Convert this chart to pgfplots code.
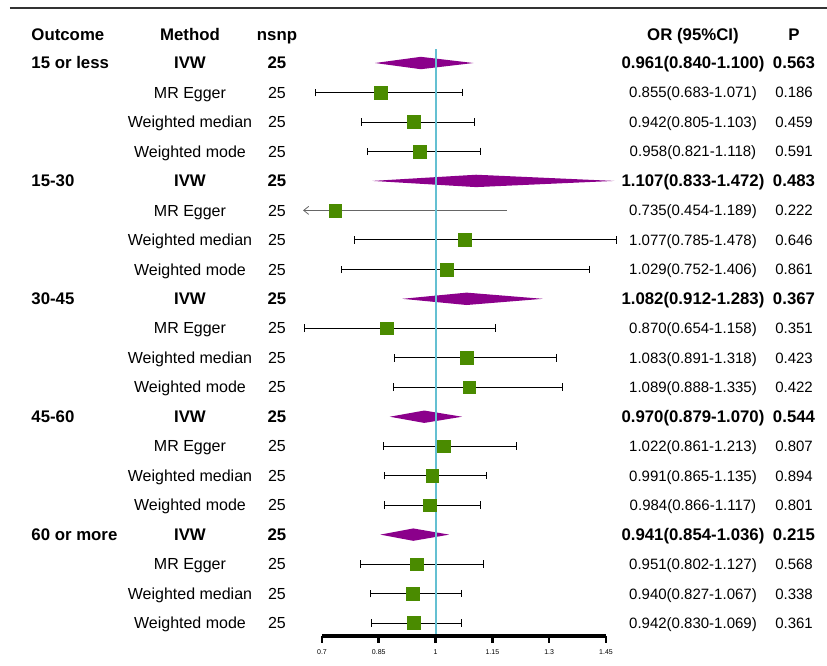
\documentclass[border=0pt]{standalone}
\usepackage{fontspec}
\setmainfont{Liberation Sans}
\usepackage{pgfplots}
\usepackage{pgfplotstable}
\pgfplotsset{compat=1.18}
\usetikzlibrary{arrows.meta}
\definecolor{dia}{HTML}{8B008B}
\definecolor{sq}{HTML}{4A8B00}
\definecolor{refl}{RGB}{100,192,210}
\definecolor{topl}{HTML}{333333}

\newcommand{\bfs}{\fontsize{16.8}{18}\selectfont\bfseries}
\newcommand{\nfs}{\fontsize{16}{18}\selectfont}
\newcommand{\ofs}{\fontsize{15}{18}\selectfont}

% x positions of the text columns (axis units)
\newcommand{\xo}{-0.0765}
\newcommand{\xm}{0.3514}
\newcommand{\xn}{0.5812}
\newcommand{\xr}{1.6797}
\newcommand{\xp}{1.9465}

\newcommand{\ivw}[6]{%
 \node[anchor=base west, yshift=-5.9pt, font=\bfs] at (axis cs:\xo,#1) {#2};
 \node[anchor=base, yshift=-5.9pt, font=\bfs] at (axis cs:\xm,#1) {IVW};
 \node[anchor=base, yshift=-5.9pt, font=\bfs] at (axis cs:\xn,#1) {25};
 \node[anchor=base, yshift=-5.9pt, font=\bfs] at (axis cs:\xr,#1) {#3(#4-#5)};
 \node[anchor=base, yshift=-5.9pt, font=\bfs] at (axis cs:\xp,#1) {#6};}
\newcommand{\oth}[6]{%
 \node[anchor=base, yshift=-5.7pt, font=\nfs] at (axis cs:\xm,#1) {#2};
 \node[anchor=base, yshift=-5.7pt, font=\nfs] at (axis cs:\xn,#1) {25};
 \node[anchor=base, yshift=-5.5pt, font=\ofs] at (axis cs:\xr,#1) {#3(#4-#5)};
 \node[anchor=base, yshift=-5.5pt, font=\ofs] at (axis cs:\xp,#1) {#6};}

\pgfplotstableread{
y or lo hi
-1 0.855 0.683 1.071
-2 0.942 0.805 1.103
-3 0.958 0.821 1.118
-6 1.077 0.785 1.478
-7 1.029 0.752 1.406
-9 0.870 0.654 1.158
-10 1.083 0.891 1.318
-11 1.089 0.888 1.335
-13 1.022 0.861 1.213
-14 0.991 0.865 1.135
-15 0.984 0.866 1.117
-17 0.951 0.802 1.127
-18 0.940 0.827 1.067
-19 0.942 0.830 1.069
}\cidata

\pgfplotstableread{
y or
-1 0.855
-2 0.942
-3 0.958
-5 0.735
-6 1.077
-7 1.029
-9 0.870
-10 1.083
-11 1.089
-13 1.022
-14 0.991
-15 0.984
-17 0.951
-18 0.940
-19 0.942
}\sqdata

\begin{document}
\begin{tikzpicture}
\begin{axis}[
  width=284pt, height=636pt, scale only axis,
  xmin=0.7, xmax=1.45, ymin=-19.44, ymax=2.138,
  enlargelimits=false, clip=false,
  axis x line*=bottom, hide y axis,
  xtick={0.7,0.85,1,1.15,1.3,1.45},
  xticklabels={0.7,0.85,1,1.15,1.3,1.45},
  tick align=outside, major tick length=7pt,
  xticklabel style={font=\fontsize{7}{8}\selectfont, inner sep=1pt, yshift=-5pt},
]
% top rule
\draw[topl, line width=1.3pt] (axis cs:-0.1239,1.866) -- (axis cs:2.0336,1.866);
% header
\node[anchor=base west, yshift=-5.9pt, font=\bfs] at (axis cs:\xo,0.950) {Outcome};
\node[anchor=base, yshift=-5.9pt, font=\bfs] at (axis cs:\xm,0.950) {Method};
\node[anchor=base, yshift=-5.9pt, font=\bfs] at (axis cs:\xn,0.950) {nsnp};
\node[anchor=base, yshift=-5.9pt, font=\bfs] at (axis cs:\xr,0.950) {OR (95\%CI)};
\node[anchor=base, yshift=-5.9pt, font=\bfs] at (axis cs:\xp,0.950) {P};

\ivw{0}{15 or less}{0.961}{0.840}{1.100}{0.563}
\oth{-1}{MR Egger}{0.855}{0.683}{1.071}{0.186}
\oth{-2}{Weighted median}{0.942}{0.805}{1.103}{0.459}
\oth{-3}{Weighted mode}{0.958}{0.821}{1.118}{0.591}
\ivw{-4}{15-30}{1.107}{0.833}{1.472}{0.483}
\oth{-5}{MR Egger}{0.735}{0.454}{1.189}{0.222}
\oth{-6}{Weighted median}{1.077}{0.785}{1.478}{0.646}
\oth{-7}{Weighted mode}{1.029}{0.752}{1.406}{0.861}
\ivw{-8}{30-45}{1.082}{0.912}{1.283}{0.367}
\oth{-9}{MR Egger}{0.870}{0.654}{1.158}{0.351}
\oth{-10}{Weighted median}{1.083}{0.891}{1.318}{0.423}
\oth{-11}{Weighted mode}{1.089}{0.888}{1.335}{0.422}
\ivw{-12}{45-60}{0.970}{0.879}{1.070}{0.544}
\oth{-13}{MR Egger}{1.022}{0.861}{1.213}{0.807}
\oth{-14}{Weighted median}{0.991}{0.865}{1.135}{0.894}
\oth{-15}{Weighted mode}{0.984}{0.866}{1.117}{0.801}
\ivw{-16}{60 or more}{0.941}{0.854}{1.036}{0.215}
\oth{-17}{MR Egger}{0.951}{0.802}{1.127}{0.568}
\oth{-18}{Weighted median}{0.940}{0.827}{1.067}{0.338}
\oth{-19}{Weighted mode}{0.942}{0.830}{1.069}{0.361}

% IVW diamonds
\addplot[fill=dia, draw=none] coordinates {(0.840,0) (0.961,0.21) (1.100,0) (0.961,-0.21)} -- cycle;
\addplot[fill=dia, draw=none] coordinates {(0.833,-4) (1.107,-3.79) (1.472,-4) (1.107,-4.21)} -- cycle;
\addplot[fill=dia, draw=none] coordinates {(0.912,-8) (1.082,-7.79) (1.283,-8) (1.082,-8.21)} -- cycle;
\addplot[fill=dia, draw=none] coordinates {(0.879,-12) (0.970,-11.79) (1.070,-12) (0.970,-12.21)} -- cycle;
\addplot[fill=dia, draw=none] coordinates {(0.854,-16) (0.941,-15.79) (1.036,-16) (0.941,-16.21)} -- cycle;

% confidence intervals
\addplot[only marks, mark=none,
  error bars/.cd, x dir=both, x explicit,
  error bar style={black, line width=0.8pt},
  error mark options={black, line width=0.8pt, mark size=3.8pt, rotate=90}]
  table[x=or, y=y, x error plus expr=\thisrow{hi}-\thisrow{or},
        x error minus expr=\thisrow{or}-\thisrow{lo}] {\cidata};
% truncated interval (lower limit 0.454 below axis range)
\addplot[draw=gray!80!black, line width=0.8pt, {Straight Barb[length=5pt,width=8pt]}-]
  coordinates {(0.650,-5) (1.189,-5)};

% point estimates
\addplot[only marks, mark=square*, mark size=6.4pt, mark options={fill=sq, draw=sq}]
  table[x=or, y=y] {\sqdata};

% reference line
\draw[draw=refl, line width=2pt] (axis cs:1,0.475) -- (axis cs:1,-19.44);

% x axis line with ticks
\draw[black, line width=3.2pt] (axis cs:0.7,-19.44) -- (axis cs:1.45,-19.44);
\draw[black, line width=2.6pt] (axis cs:0.7,-19.44) -- (axis cs:0.7,-19.68);
\draw[black, line width=2.6pt] (axis cs:0.85,-19.44) -- (axis cs:0.85,-19.68);
\draw[black, line width=2.6pt] (axis cs:1,-19.44) -- (axis cs:1,-19.68);
\draw[black, line width=2.6pt] (axis cs:1.15,-19.44) -- (axis cs:1.15,-19.68);
\draw[black, line width=2.6pt] (axis cs:1.3,-19.44) -- (axis cs:1.3,-19.68);
\draw[black, line width=2.6pt] (axis cs:1.45,-19.44) -- (axis cs:1.45,-19.68);

\coordinate (bbA) at (axis cs:-0.1503,2.138);
\coordinate (bbB) at (axis cs:2.0336,-20.43);
\end{axis}
\pgfresetboundingbox
\path[use as bounding box] (bbA) rectangle (bbB);
\end{tikzpicture}
\end{document}
